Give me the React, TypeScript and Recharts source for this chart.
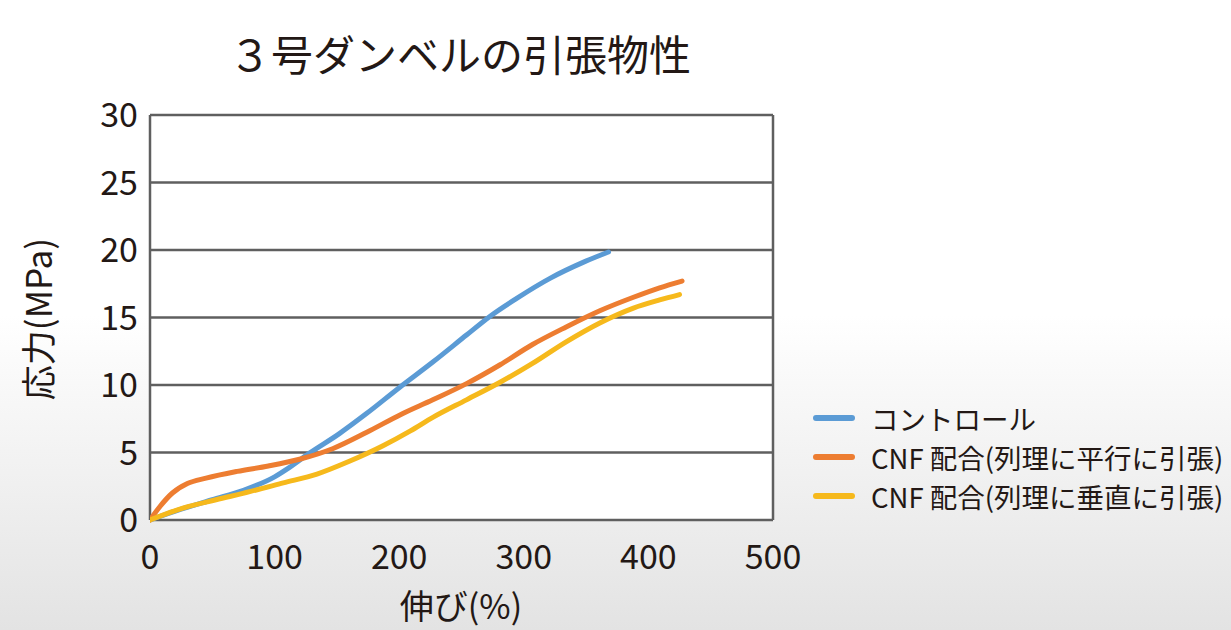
import { LineChart, Line, XAxis, YAxis, CartesianGrid } from "recharts";

// 伸び(%) / 応力(MPa)
const controlStrain = [0, 25, 50, 75, 100, 112, 128, 152, 174, 200, 227, 254, 273, 294, 321, 348, 368];
const controlStress = [0, 0.8, 1.5, 2.2, 3.2, 3.9, 4.95, 6.4, 7.9, 9.8, 11.7, 13.7, 15.1, 16.4, 17.9, 19.1, 19.85];

const parallelStrain = [0, 8, 18, 30, 45, 70, 95, 120, 147, 174, 201, 227, 254, 281, 307, 334, 361, 388, 409, 427];
const parallelStress = [0, 1.0, 2.0, 2.7, 3.1, 3.6, 4.0, 4.5, 5.3, 6.5, 7.8, 8.9, 10.1, 11.5, 13.0, 14.3, 15.5, 16.5, 17.2, 17.7];

const verticalStrain = [0, 27, 53, 80, 107, 134, 160, 187, 209, 227, 254, 281, 307, 334, 361, 388, 409, 425];
const verticalStress = [0, 0.9, 1.5, 2.1, 2.75, 3.4, 4.35, 5.5, 6.6, 7.6, 8.9, 10.2, 11.6, 13.2, 14.6, 15.7, 16.3, 16.7];

const xTicks = [0, 100, 200, 300, 400, 500];
const yTicks = [0, 5, 10, 15, 20, 25, 30];

const toPoints = (xs: number[], ys: number[]) => xs.map((x, i) => ({ x, y: ys[i] }));

const SERIES = [
  { name: "コントロール", color: "#5B9BD5", data: toPoints(controlStrain, controlStress) },
  { name: "CNF 配合(列理に平行に引張)", color: "#ED7D31", data: toPoints(parallelStrain, parallelStress) },
  { name: "CNF 配合(列理に垂直に引張)", color: "#F6B91C", data: toPoints(verticalStrain, verticalStress) }
];

const FONT = "'Noto Sans CJK JP', 'Noto Sans', sans-serif";
const TEXT = "#231815";

const W = 1231;
const H = 630;
const PLOT = { left: 150, top: 115, right: 773, bottom: 520 };

function XTick({ x, y, payload }: any) {
  return (
    <text x={x} y={y + 41} textAnchor="middle" fontSize={34} fill={TEXT} fontFamily={FONT}>
      {payload.value}
    </text>
  );
}

function YTick({ x, y, payload }: any) {
  return (
    <text x={x - 2} y={y + 12} textAnchor="end" fontSize={34} fill={TEXT} fontFamily={FONT}>
      {payload.value}
    </text>
  );
}

function LegendBox() {
  return (
    <div style={{ display: "flex", flexDirection: "column", gap: 7 }}>
      {SERIES.map((s) => (
        <div key={s.name} style={{ display: "flex", alignItems: "center", height: 32 }}>
          <span
            style={{ width: 42, height: 6, borderRadius: 3, background: s.color, marginRight: 16 }}
          />
          <span style={{ fontSize: 27.5, color: TEXT, fontFamily: FONT, whiteSpace: "nowrap" }}>{s.name}</span>
        </div>
      ))}
    </div>
  );
}

export default function App() {
  return (
    <div
      style={{
        position: "fixed",
        left: 0,
        top: 0,
        width: W,
        height: H,
        background: "linear-gradient(to bottom, #ffffff 0%, #ffffff 50%, #f1f1f1 75%, #e3e3e3 100%)",
        fontFamily: FONT
      }}
    >
      <div
        style={{
          position: "absolute",
          left: 0,
          width: 920,
          top: 26,
          textAlign: "center",
          fontSize: 42,
          color: TEXT,
          lineHeight: "54px"
        }}
      >
        ３号ダンベルの引張物性
      </div>

      <LineChart
        width={W}
        height={H}
        margin={{ left: PLOT.left - 60, top: PLOT.top, right: W - PLOT.right, bottom: H - PLOT.bottom - 60 }}
        style={{ position: "absolute", left: 0, top: 0 }}
      >
        <CartesianGrid
          fill="#ffffff"
          stroke="#5f5f5f"
          strokeWidth={2.5}
          horizontalPoints={[115, 182.5, 250, 317.5, 385, 452.5, 520]}
          verticalPoints={[PLOT.left, PLOT.right]}
        />
        <XAxis
          type="number"
          dataKey="x"
          domain={[0, 500]}
          ticks={xTicks}
          axisLine={false}
          tickLine={false}
          tick={<XTick />}
          height={60}
          allowDataOverflow
        />
        <YAxis
          type="number"
          dataKey="y"
          domain={[0, 30]}
          ticks={yTicks}
          axisLine={false}
          tickLine={false}
          tick={<YTick />}
          tickMargin={4}
          width={60}
        />
        {SERIES.map((s) => (
          <Line
            key={s.name}
            data={s.data}
            dataKey="y"
            name={s.name}
            type="monotone"
            stroke={s.color}
            strokeWidth={5}
            strokeLinecap="round"
            dot={false}
            isAnimationActive={false}
          />
        ))}
      </LineChart>

      <div style={{ position: "absolute", left: 813, top: 402 }}>
        <LegendBox />
      </div>

      <div
        style={{
          position: "absolute",
          left: 0,
          width: 922,
          top: 584,
          textAlign: "center",
          fontSize: 34,
          color: TEXT,
          lineHeight: "42px"
        }}
      >
        伸び(%)
      </div>
      <div
        style={{
          position: "absolute",
          left: 37,
          top: 319,
          transform: "translate(-50%, -50%) rotate(-90deg)",
          fontSize: 35,
          color: TEXT,
          whiteSpace: "nowrap",
          lineHeight: "42px"
        }}
      >
        応力(MPa)
      </div>
    </div>
  );
}
